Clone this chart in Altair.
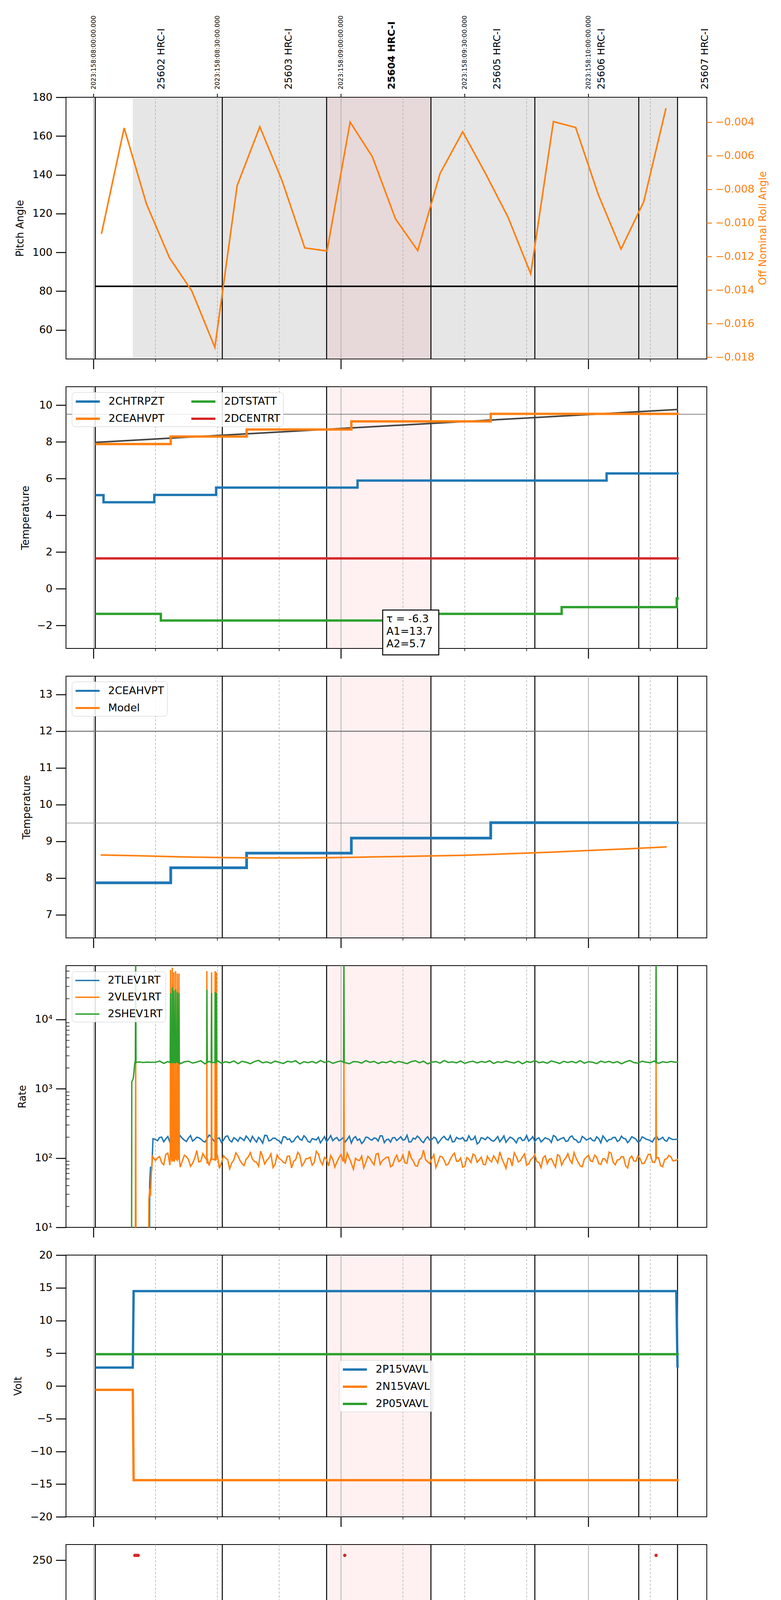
import altair as alt
import pandas as pd

FONT = "DejaVu Sans"
BLUE, ORANGE, GREEN, RED = "#1f77b4", "#ff7f0e", "#2ca02c", "#d62728"
PANEL_W, PANEL_H = 1641, 670

# ---------------- time axis: minutes after 04:00 local (08:00 UTC) ----------------
X_DOMAIN = [-6.7, 148.7]
HOUR_TICKS = [0, 60, 120]
HOUR_LABELS = ["04h", "05h", "06h"]
QUARTER_TICKS = [15, 30, 45, 75, 90, 105, 135]
QUARTER_LABELS = ["15", "30", "45", "15", "30", "45", "15"]
TOP_TICKS = [0, 30, 60, 90, 120]
TOP_LABELS = ["2023:158:08:00:00.000", "2023:158:08:30:00.000", "2023:158:09:00:00.000",
              "2023:158:09:30:00.000", "2023:158:10:00:00.000"]
X_TITLE = "2023-06-07 (158)"

OBSID_BOUNDS = [0.4, 31.2, 56.5, 81.8, 107.0, 132.2, 141.6]
OBSID_LABEL_X = [16.4, 47.3, 72.3, 97.8, 123.1, 148.2]
OBSID_NAMES = ["25602 HRC-I", "25603 HRC-I", "25604 HRC-I", "25605 HRC-I", "25606 HRC-I", "25607 HRC-I"]
OBSID_BOLD = [False, False, True, False, False, False]
GREY_SPAN = [9.5, 141.6]
PINK_SPAN = [56.5, 81.8]

# ---------------- panel 1: pitch / off-nominal roll ----------------
PITCH = [(0.4, 82.5), (141.6, 82.5)]
ROLL = [(1.9, -0.01064), (7.4, -0.00433), (12.8, -0.00885), (18.4, -0.01207), (23.8, -0.01404),
        (29.4, -0.01741), (34.8, -0.00777), (40.3, -0.00426), (45.7, -0.00747), (51.2, -0.01148),
        (56.6, -0.01166), (62.2, -0.00398), (67.6, -0.00605), (73.2, -0.00975), (78.6, -0.01164),
        (84.0, -0.00705), (89.5, -0.00456), (95.0, -0.00703), (100.5, -0.00965), (106.0, -0.01302),
        (111.5, -0.00395), (116.9, -0.0043), (122.4, -0.00831), (127.9, -0.01155), (133.4, -0.00873),
        (138.8, -0.00315)]
PITCH_DOMAIN = [45, 180]
ROLL_DOMAIN = [-0.0181, -0.0025]
PITCH_TICKS = [60, 80, 100, 120, 140, 160, 180]
ROLL_TICKS = [-0.004, -0.006, -0.008, -0.010, -0.012, -0.014, -0.016, -0.018]

# ---------------- panel 2: temperatures ----------------
P2_MODEL = [(0.4, 7.97), (141.7, 9.76)]
P2_2CHTRPZT = [(0.4, 5.1), (2.4, 4.71), (14.7, 5.11), (29.7, 5.51), (64.0, 5.89), (124.4, 6.28), (141.9, 6.28)]
P2_2CEAHVPT = [(0.4, 7.88), (18.7, 8.29), (37.1, 8.67), (62.5, 9.11), (96.3, 9.52), (141.9, 9.52)]
P2_2DTSTATT = [(0.4, -1.37), (16.3, -1.73), (81.8, -1.37), (113.5, -1.0), (141.4, -0.52), (141.9, -0.52)]
P2_2DCENTRT = [(0.4, 1.65), (141.9, 1.65)]
P2_HLINES = [9.5]
P2_BOX = (70.1, 83.7, -1.16, -3.6)
P2_BOX_X = 71.0
P2_BOX_TEXT = ["τ = -6.3", "A1=13.7", "A2=5.7"]
P2_BOX_Y = [-1.65, -2.33, -3.01]

# ---------------- panel 3: 2CEAHVPT vs model ----------------
P3_2CEAHVPT = [(0.4, 7.87), (18.7, 8.28), (37.1, 8.68), (62.5, 9.09), (96.3, 9.51), (141.9, 9.51)]
P3_MODEL = [(1.7, 8.63), (10, 8.61), (20, 8.58), (30, 8.56), (40, 8.55), (50, 8.55), (60, 8.56),
            (70, 8.58), (80, 8.60), (90, 8.62), (100, 8.66), (110, 8.70), (120, 8.75), (130, 8.80), (139, 8.85)]
P3_HLINES = [12.0, 9.5]

# ---------------- panel 4: rates (log) ----------------
RATE_GRID_START = 15
P4_TLEV_NOISE = [185, 198, 172, 205, 190, 165, 210, 182, 195, 176, 200, 188, 170, 215, 183, 192, 168, 205, 180, 197,
                 175, 190, 208, 172, 186, 199, 164, 212, 181, 194, 177, 203, 185, 170, 196, 188, 210, 174, 191, 183,
                 166, 204, 189, 178, 198, 185, 171, 207, 193, 180, 162, 200, 187, 195, 176, 209, 184, 170, 198, 190,
                 181, 214, 172, 188, 196, 167, 203, 185, 193, 178, 206, 182, 171, 199, 189, 177, 210, 186, 160, 197,
                 184, 192, 175, 205, 188, 169, 201, 183, 194, 179, 212, 187, 173, 196, 182, 190, 168, 204, 186, 198,
                 177, 209, 183, 171, 195, 188, 180, 203, 166, 192, 185, 199, 174, 207, 189, 181, 196, 170, 202, 187,
                 178, 193, 184, 200, 175, 190, 186]
P4_TLEV_NOISE_HALF = [178, 201, 189, 169, 207, 184, 193, 173, 211, 186, 197, 176, 190, 204, 168, 195, 182, 209, 171, 188,
                      199, 179, 192, 206, 170, 185, 213, 177, 194, 183, 163, 202, 190, 175, 208, 181, 196, 169, 187, 200,
                      184, 172, 211, 191, 178, 197, 186, 165, 204, 189, 174, 199, 181, 192, 210, 167, 188, 196, 179, 203,
                      185, 170, 194, 208, 176, 189, 182, 200, 164, 195, 187, 211, 173, 190, 198, 178, 184, 206, 169, 192,
                      201, 180, 188, 172, 209, 185, 194, 166, 198, 183, 176, 204, 190, 171, 197, 186, 212, 179, 193, 174,
                      200, 187, 168, 205, 182, 195, 177, 190, 209, 173, 186, 199, 181, 192, 167, 203, 188, 176, 196, 184,
                      171, 207, 189, 180, 198, 185]
P4_VLEV_NOISE = [92, 105, 80, 118, 88, 99, 74, 110, 95, 84, 128, 90, 102, 78, 96, 112, 86, 100, 70, 94,
                 108, 83, 97, 120, 89, 76, 104, 93, 115, 81, 99, 87, 106, 72, 95, 110, 85, 98, 79, 125,
                 91, 102, 77, 96, 88, 113, 83, 100, 69, 94, 107, 86, 99, 80, 117, 92, 103, 75, 97, 89,
                 111, 84, 101, 78, 95, 130, 88, 98, 73, 106, 93, 82, 109, 90, 100, 76, 96, 114, 87, 103,
                 80, 94, 108, 85, 99, 71, 97, 119, 88, 104, 79, 95, 112, 86, 101, 83, 98, 74, 107, 92,
                 116, 84, 100, 77, 96, 110, 89, 103, 81, 97, 122, 87, 94, 105, 78, 99, 91, 108, 83, 96,
                 113, 86, 101, 75, 98, 104, 92]
P4_VLEV_NOISE_HALF = [101, 86, 113, 79, 97, 124, 90, 105, 76, 99, 88, 116, 83, 102, 93, 71, 108, 95, 85, 119,
                      92, 78, 104, 97, 87, 126, 82, 100, 73, 111, 94, 84, 107, 90, 121, 77, 98, 103, 86, 115,
                      80, 96, 109, 74, 101, 89, 118, 84, 99, 92, 72, 106, 88, 114, 81, 97, 103, 78, 110, 93,
                      85, 127, 91, 76, 100, 95, 83, 112, 87, 104, 79, 96, 118, 90, 74, 102, 86, 109, 94, 81,
                      106, 88, 97, 123, 84, 99, 77, 105, 92, 115, 82, 101, 89, 73, 108, 96, 85, 112, 79, 100,
                      94, 120, 87, 75, 103, 91, 110, 83, 98, 86, 117, 80, 95, 104, 72, 107, 90, 99, 84, 113,
                      88, 102, 78, 96, 109, 91]
P4_SHEV_NOISE = [2410, 2520, 2330, 2470, 2390, 2560, 2300, 2450, 2500, 2350, 2430, 2540, 2290, 2480, 2400, 2550, 2340, 2460, 2380, 2520,
                 2310, 2490, 2420, 2300, 2470, 2570, 2370, 2450, 2340, 2510, 2410, 2320, 2500, 2430, 2540, 2290, 2460, 2380, 2480, 2350,
                 2560, 2400, 2500, 2330, 2440, 2530, 2390, 2300, 2470, 2450, 2350, 2550, 2410, 2490, 2320, 2440, 2380, 2520, 2360, 2480,
                 2400, 2310, 2460, 2540, 2380, 2500, 2290, 2430, 2470, 2350, 2560, 2400, 2450, 2370, 2520, 2330, 2440, 2500, 2360, 2480,
                 2410, 2540, 2320, 2460, 2390, 2520, 2430, 2350, 2500, 2300, 2470, 2410, 2560, 2380, 2450, 2340, 2520, 2430, 2320, 2490,
                 2400, 2480, 2370, 2550, 2340, 2460, 2420, 2310, 2510, 2400, 2490, 2370, 2470, 2300, 2450, 2560, 2390, 2350, 2500, 2430,
                 2380, 2520, 2330, 2460, 2400, 2480, 2420]
P4_TLEV_EXTRA = [(0.4, 1), (13.5, 1), (13.6, 45), (13.8, 75), (14.1, 68), (14.4, 190), (141.7, 188)]
P4_VLEV_EXTRA = [(0.4, 1), (10.1, 1), (10.2, 3000), (10.3, 1), (13.3, 1), (13.4, 25), (13.6, 36), (13.8, 28),
                 (14.0, 60), (14.3, 105),
                 (18.58, 95), (18.66, 52000), (18.74, 96), (19.0, 98), (19.08, 56000), (19.16, 100),
                 (19.42, 90), (19.46, 48000), (19.58, 92), (19.79, 98), (19.87, 50000), (19.95, 96),
                 (20.22, 94), (20.3, 46000), (20.38, 99), (20.62, 93), (20.7, 46000), (20.78, 97),
                 (27.42, 95), (27.46, 50000), (27.58, 98), (28.52, 92), (28.6, 48000), (28.68, 96),
                 (29.42, 94), (29.46, 50000), (29.58, 97), (29.72, 93), (29.8, 48000), (29.88, 99),
                 (60.62, 96), (60.7, 2400), (60.78, 98), (136.32, 95), (136.4, 2500), (136.48, 97), (141.7, 96)]
P4_SHEV_EXTRA = [(0.4, 1), (9.2, 1), (9.25, 1250), (9.6, 1400), (9.8, 1800), (10.0, 2400), (10.12, 2380),
                 (10.2, 90000), (10.28, 2400), (11.0, 2440), (12.0, 2400), (13.0, 2430), (14.0, 2410),
                 (18.58, 2400), (18.66, 24000), (18.74, 2420), (19.0, 2390), (19.08, 29000), (19.16, 2410),
                 (19.42, 2430), (19.46, 26000), (19.58, 2400), (19.79, 2380), (19.87, 27000), (19.95, 2420),
                 (20.22, 2410), (20.3, 25000), (20.38, 2400), (20.62, 2390), (20.7, 24000), (20.78, 2430),
                 (27.42, 2400), (27.46, 27000), (27.58, 2420), (28.52, 2410), (28.6, 24000), (28.68, 2400),
                 (29.42, 2390), (29.46, 25000), (29.58, 2410), (29.72, 2400), (29.8, 24000), (29.88, 2420),
                 (60.62, 2400), (60.7, 90000), (60.78, 2420), (136.32, 2410), (136.4, 90000), (136.48, 2400),
                 (141.7, 2420)]
RATE_TICKS = [10, 100, 1000, 10000]
RATE_LABELS = ["10¹", "10²", "10³", "10⁴"]
RATE_MINOR = [20, 30, 40, 50, 60, 70, 80, 90, 200, 300, 400, 500, 600, 700, 800, 900,
              2000, 3000, 4000, 5000, 6000, 7000, 8000, 9000, 20000, 30000, 40000, 50000, 60000]

# ---------------- panel 5: voltages ----------------
P5_2P15VAVL = [(0.4, 2.8), (9.5, 2.8), (9.7, 14.5), (141.3, 14.5), (141.6, 2.8)]
P5_2N15VAVL = [(0.4, -0.6), (9.5, -0.6), (9.7, -14.4), (141.9, -14.4)]
P5_2P05VAVL = [(0.4, 4.85), (141.9, 4.85)]

# ---------------- panel 6: HV monitor ----------------
P6_2IMHVLV_PTS = [(10.9, 100), (11.3, 100), (11.6, 100), (11.5, 96), (11.9, 96), (12.3, 96), (12.1, 90), (12.5, 90),
                  (12.9, 90), (12.7, 86), (13.1, 86), (13.6, 86), (13.3, 82), (13.8, 82), (14.3, 82),
                  (18.9, 127), (28.8, 127), (30.0, 127)]
P6_2IMHVLV_BAND = [(14.3, 79), (141.9, 79)]
P6_2IMHBLV_PTS = [(10.0, 255), (10.4, 255), (10.8, 255), (11.0, 127), (11.3, 127), (10.9, 122), (11.1, 119),
                  (11.0, 105), (11.4, 105), (11.8, 105), (12.2, 105), (11.6, 101), (12.0, 101), (12.4, 101), (12.8, 101),
                  (12.2, 97), (12.6, 97), (13.0, 97), (13.4, 97), (12.8, 93), (13.2, 93), (13.6, 93), (14.0, 93),
                  (13.4, 90), (13.8, 90), (14.2, 90), (14.5, 90),
                  (18.9, 79), (28.8, 79), (30.0, 79), (60.9, 255), (136.4, 255)]
P6_2IMHBLV_BAND = [(13.8, 86), (141.9, 86)]

# ---------------- panel 7: detector temps ----------------
P7_2SPINATM = [(10.8, 4.15), (12.4, 4.6), (18.3, 0), (18.5, 4.6), (18.7, 0), (18.9, 4.6), (19.1, 0), (19.3, 4.6),
               (19.5, 0), (19.7, 4.6), (19.9, 0), (20.1, 4.6), (20.3, 0), (20.5, 4.6), (20.7, 0), (20.9, 4.6),
               (21.1, 0), (21.3, 4.6), (21.5, 0), (21.6, 4.6), (28.4, 0), (28.6, 4.6), (29.7, 0), (29.9, 4.6),
               (141.9, 4.6)]
P7_2SPHVATM = [(9.2, -5), (9.3, 16.9), (18.3, 10.5), (18.5, 16.9), (18.7, 10.6), (18.9, 16.9), (19.1, 10.5),
               (19.3, 16.9), (19.5, 10.6), (19.7, 16.9), (19.9, 10.5), (20.1, 16.9), (20.3, 10.6), (20.5, 16.9),
               (20.7, 10.5), (20.9, 16.9), (21.1, 10.6), (21.3, 16.9), (21.5, 10.6), (21.6, 16.9), (28.4, 11.2),
               (28.6, 16.9), (29.7, 11.2), (29.9, 16.9), (70.9, 17.2), (105.0, 17.5), (141.9, 17.5)]
P7_2IMINATM = [(10.8, 2.4), (18.3, 4.6), (18.5, 2.4), (18.7, 4.6), (18.9, 2.4), (19.1, 4.6), (19.3, 2.4),
               (19.5, 4.6), (19.7, 2.4), (19.9, 4.6), (20.1, 2.4), (20.3, 4.6), (20.5, 2.4), (20.7, 4.6),
               (20.9, 2.4), (21.1, 4.6), (21.3, 2.4), (21.5, 4.6), (21.6, 2.4), (28.4, 4.6), (28.6, 2.4),
               (29.7, 4.6), (29.9, 2.4), (97.5, 2.79), (102.4, 2.55), (102.6, 2.79), (141.9, 2.79)]
P7_2IMHVATM = [(9.2, -5), (9.3, 16.35), (10.7, -5), (10.9, 16.35), (22.1, 16.63), (28.4, 16.9), (36.0, 17.2),
               (44.1, 17.49), (53.5, 17.78), (60.6, -5), (60.9, 17.78), (64.4, 18.05), (78.9, 18.34),
               (96.1, 18.63), (120.2, 18.94), (136.2, -5), (136.6, 18.94), (141.9, 18.94)]

# ---------------- panel 8: FEA temps ----------------
P8_2FHTRMZT = [(0.4, -4.04), (1.8, -4.42), (23.9, -4.04), (36.0, -3.64), (47.2, -3.27), (58.6, -2.9), (70.7, -2.52),
               (82.9, -2.16), (95.4, -1.76), (108.6, -1.37), (122.2, -1.0), (136.9, -0.64), (141.9, -0.64)]
P8_2FRADPYT = [(0.4, -6.38), (5.3, -6.77), (28.9, -6.38), (42.6, -6.0), (55.7, -5.62), (68.9, -5.23), (82.9, -4.84),
               (97.1, -4.45), (112.0, -4.06), (127.2, -3.67), (141.9, -3.67)]
P8_2FEPRATM = [(10.8, -3.43), (12.4, -3.03), (15.2, -2.64), (17.9, -2.26), (18.4, -4.63), (18.6, -2.26),
               (19.4, -4.63), (19.6, -2.26), (19.9, -4.63), (20.1, -2.26), (20.5, -4.63), (20.7, -2.26),
               (22.1, -1.87), (27.4, -1.45), (28.4, -4.63), (28.6, -1.45), (29.7, -4.63), (29.9, -1.45),
               (33.9, -1.03), (42.6, -0.65), (52.1, -0.25), (62.9, 0.18), (74.5, 0.6), (87.8, 1.03),
               (101.7, 1.46), (116.8, 1.89), (132.5, 2.32), (141.9, 2.32)]
P8_2FE00ATM = [(9.2, -12), (9.3, -2.14), (10.7, -12), (10.9, -2.14), (17.3, -1.82), (18.3, 5), (18.5, -1.82),
               (18.7, 5), (18.9, -1.82), (19.1, 5), (19.3, -1.82), (19.5, 5), (19.7, -1.82), (19.9, 5),
               (20.1, -1.82), (20.3, 5), (20.5, -1.82), (20.7, 5), (20.9, -1.82), (21.1, 5), (21.3, -1.82),
               (21.5, 5), (21.6, -1.82), (25.7, -1.47), (27.4, 5), (27.6, -1.47), (28.4, 5), (28.6, -1.47),
               (29.7, 5), (29.9, -1.47), (33.6, -1.11), (40.8, -0.8), (48.4, -0.48), (51.2, -1.1), (51.4, -0.48),
               (56.5, -0.15), (60.6, -12), (60.9, -0.15), (65.3, 0.17), (73.6, 0.45), (83.3, 0.77), (92.6, 1.07),
               (93.0, 0.5), (93.2, 1.07), (103.2, 1.41), (105.6, 0.77), (105.8, 1.41), (113.2, 1.73),
               (124.5, 2.0), (135.5, 2.32), (136.2, -12), (136.6, 2.32), (141.9, 2.32)]


# ======================================================================
def label_expr(values, labels):
    expr = "''"
    for v, lab in zip(reversed(values), reversed(labels)):
        expr = f"datum.value == {v} ? '{lab}' : {expr}"
    return expr


def xs(field="t"):
    return alt.X(f"{field}:Q", scale=alt.Scale(domain=X_DOMAIN, nice=False, zero=False), axis=None)


def yscale(dom, log=False):
    if log:
        return alt.Scale(type="log", domain=dom, nice=False)
    return alt.Scale(domain=dom, nice=False, zero=False)


def yaxis(values, title, title_x, **kw):
    return alt.Axis(orient="left", values=values, title=title, titleX=title_x, titleBaseline="middle",
                    tickSize=26, tickWidth=2.5, labelPadding=9, grid=False, domain=False, **kw)


def pts_df(pts, name=None):
    d = {"t": [p[0] for p in pts], "v": [p[1] for p in pts]}
    if name is not None:
        d["s"] = [name] * len(pts)
    return pd.DataFrame(d)


def base_layers(bottom=False, grey=False):
    layers = []
    # transparent frame that gives every panel the same layout extent above / below its plot area
    layers.append(alt.Chart(pd.DataFrame({"k": [0]})).mark_rect(opacity=0).encode(
        x=alt.value(0), x2=alt.value(1), y=alt.value(-15), y2=alt.value(PANEL_H + 30)))
    if grey:
        layers.append(alt.Chart(pd.DataFrame({"a": [GREY_SPAN[0]], "b": [GREY_SPAN[1]]}))
                      .mark_rect(color="#808080", opacity=0.2).encode(x=xs("a"), x2="b:Q"))
    layers.append(alt.Chart(pd.DataFrame({"a": [PINK_SPAN[0]], "b": [PINK_SPAN[1]]}))
                  .mark_rect(color="#ff0000", opacity=0.055).encode(x=xs("a"), x2="b:Q"))
    q_df = pd.DataFrame({"t": QUARTER_TICKS, "lab": QUARTER_LABELS})
    h_df = pd.DataFrame({"t": HOUR_TICKS, "lab": HOUR_LABELS})
    layers.append(alt.Chart(q_df).mark_rule(color="#b0b0b0", strokeWidth=1.5, strokeDash=[6, 4]).encode(x=xs()))
    layers.append(alt.Chart(h_df).mark_rule(color="#b0b0b0", strokeWidth=2).encode(x=xs()))
    layers.append(alt.Chart(pd.DataFrame({"t": OBSID_BOUNDS}))
                  .mark_rule(color="black", strokeWidth=2.5).encode(x=xs()))
    # bottom tick marks (outside the plot area)
    layers.append(alt.Chart(h_df).mark_rule(color="black", strokeWidth=2.5).encode(
        x=xs(), y=alt.value(PANEL_H), y2=alt.value(PANEL_H + 26)))
    layers.append(alt.Chart(q_df).mark_rule(color="black", strokeWidth=1.5).encode(
        x=xs(), y=alt.value(PANEL_H), y2=alt.value(PANEL_H + 7)))
    if bottom:
        layers.append(alt.Chart(h_df).mark_text(fontSize=26, font=FONT, baseline="middle", color="black").encode(
            x=xs(), y=alt.value(PANEL_H + 47), text="lab:N"))
        layers.append(alt.Chart(q_df).mark_text(fontSize=17, font=FONT, baseline="middle", color="black").encode(
            x=xs(), y=alt.value(PANEL_H + 15), text="lab:N"))
        layers.append(alt.Chart(pd.DataFrame({"lab": [X_TITLE]})).mark_text(
            fontSize=33, font=FONT, baseline="middle", color="black").encode(
            x=alt.value(PANEL_W / 2), y=alt.value(PANEL_H + 86), text="lab:N"))
    return layers


LEG_COMMON = dict(orient="none", title=None, labelFontSize=27, labelFont=FONT, labelLimit=400,
                  padding=7, strokeColor="#cccccc", fillColor="rgba(255,255,255,0.85)", cornerRadius=8)


def line_legend(lx, ly, stroke_w=6, columns=1):
    return alt.Legend(legendX=lx, legendY=ly, columns=columns, columnPadding=56,
                      symbolType="M-1,0L3.4,0", symbolSize=784, symbolStrokeWidth=stroke_w,
                      labelOffset=53, rowPadding=14, **LEG_COMMON)


def series(pts, name, ysc, yax, cscale, legend, interp="step-after", width=6.0):
    return alt.Chart(pts_df(pts, name)).mark_line(interpolate=interp, strokeWidth=width, clip=True).encode(
        x=xs(), y=alt.Y("v:Q", scale=ysc, axis=yax),
        color=alt.Color("s:N", scale=cscale, legend=legend))


def hlines(vals, ysc, yax, color, width):
    return alt.Chart(pd.DataFrame({"v": vals})).mark_rule(color=color, strokeWidth=width).encode(
        y=alt.Y("v:Q", scale=ysc, axis=yax))


def finish(layers):
    return alt.layer(*layers).properties(width=PANEL_W, height=PANEL_H)


# ---------------- panel 1 ----------------
ys1 = yscale(PITCH_DOMAIN)
ya1 = yaxis(PITCH_TICKS, "Pitch Angle", -118)
# roll values are drawn on the pitch scale through the linear map between the two axis ranges
roll_to_pitch = (f"{PITCH_DOMAIN[0]} + (datum.v - ({ROLL_DOMAIN[0]})) * "
                 f"{PITCH_DOMAIN[1] - PITCH_DOMAIN[0]} / {ROLL_DOMAIN[1] - ROLL_DOMAIN[0]}")
p1 = base_layers(grey=True)
p1.append(alt.Chart(pts_df(PITCH)).mark_line(color="black", strokeWidth=4).encode(
    x=xs(), y=alt.Y("v:Q", scale=ys1, axis=ya1)))
p1.append(alt.Chart(pts_df(ROLL)).transform_calculate(p=roll_to_pitch).mark_line(
    color=ORANGE, strokeWidth=4, clip=True).encode(x=xs(), y=alt.Y("p:Q", scale=ys1, axis=ya1)))
roll_tick_df = pd.DataFrame({"v": ROLL_TICKS, "lab": [f"{v:.3f}".replace("-", "\u2212") for v in ROLL_TICKS]})
p1.append(alt.Chart(roll_tick_df).transform_calculate(p=roll_to_pitch).mark_rule(
    color=ORANGE, strokeWidth=2.5).encode(
    y=alt.Y("p:Q", scale=ys1, axis=ya1), x=alt.value(PANEL_W), x2=alt.value(PANEL_W + 13)))
p1.append(alt.Chart(roll_tick_df).transform_calculate(p=roll_to_pitch).mark_text(
    color=ORANGE, fontSize=27, font=FONT, align="left", baseline="middle").encode(
    y=alt.Y("p:Q", scale=ys1, axis=ya1), x=alt.value(PANEL_W + 22), text="lab:N"))
p1.append(alt.Chart(pd.DataFrame({"lab": ["Off Nominal Roll Angle"]})).mark_text(
    color=ORANGE, fontSize=26, font=FONT, angle=270, align="center", baseline="middle").encode(
    x=alt.value(PANEL_W + 144), y=alt.value(PANEL_H / 2), text="lab:N"))
top_df = pd.DataFrame({"t": TOP_TICKS, "lab": TOP_LABELS})
p1.append(alt.Chart(top_df).mark_rule(color="black", strokeWidth=2).encode(
    x=xs(), y=alt.value(-9), y2=alt.value(0)))
p1.append(alt.Chart(top_df).mark_text(fontSize=16, font=FONT, angle=270, align="left", baseline="middle",
                                      color="black").encode(x=xs(), y=alt.value(-20), text="lab:N"))
obs_df = pd.DataFrame({"t": OBSID_LABEL_X, "name": OBSID_NAMES, "bold": OBSID_BOLD})
p1.append(alt.Chart(obs_df[~obs_df["bold"]]).mark_text(
    angle=270, align="left", baseline="middle", fontSize=25, font=FONT, color="black").encode(
    x=xs(), y=alt.value(-20), text="name:N"))
p1.append(alt.Chart(obs_df[obs_df["bold"]]).mark_text(
    angle=270, align="left", baseline="middle", fontSize=25, font=FONT, fontWeight="bold", color="black").encode(
    x=xs(), y=alt.value(-20), text="name:N"))
panel1 = finish(p1)

# ---------------- panel 2 ----------------
ys2 = yscale([-3.25, 11.0])
ya2 = yaxis([-2, 0, 2, 4, 6, 8, 10], "Temperature", -104)
c2 = alt.Scale(domain=["2CHTRPZT", "2CEAHVPT", "2DTSTATT", "2DCENTRT"], range=[BLUE, ORANGE, GREEN, RED])
leg2 = line_legend(15, 14, columns=2)
p2 = base_layers()
p2.append(hlines(P2_HLINES, ys2, ya2, "#808080", 2))
p2.append(alt.Chart(pts_df(P2_MODEL)).mark_line(color="#444444", strokeWidth=4).encode(
    x=xs(), y=alt.Y("v:Q", scale=ys2, axis=ya2)))
p2.append(series(P2_2CHTRPZT, "2CHTRPZT", ys2, ya2, c2, leg2))
p2.append(series(P2_2CEAHVPT, "2CEAHVPT", ys2, ya2, c2, leg2))
p2.append(series(P2_2DTSTATT, "2DTSTATT", ys2, ya2, c2, leg2))
p2.append(series(P2_2DCENTRT, "2DCENTRT", ys2, ya2, c2, leg2))
p2.append(alt.Chart(pd.DataFrame({"a": [P2_BOX[0]], "b": [P2_BOX[1]], "v": [P2_BOX[2]], "d": [P2_BOX[3]]}))
          .mark_rect(fill="white", stroke="black", strokeWidth=2.5).encode(
    x=xs("a"), x2="b:Q", y=alt.Y("v:Q", scale=ys2, axis=ya2), y2="d:Q"))
p2.append(alt.Chart(pd.DataFrame({"t": [P2_BOX_X] * 3, "v": P2_BOX_Y, "txt": P2_BOX_TEXT}))
          .mark_text(align="left", baseline="middle", fontSize=27, font=FONT, color="black").encode(
    x=xs(), y=alt.Y("v:Q", scale=ys2, axis=ya2), text="txt:N"))
panel2 = finish(p2)

# ---------------- panel 3 ----------------
ys3 = yscale([6.37, 13.5])
ya3 = yaxis([7, 8, 9, 10, 11, 12, 13], "Temperature", -101)
c3 = alt.Scale(domain=["2CEAHVPT", "Model"], range=[BLUE, ORANGE])
leg3 = line_legend(15, 14, stroke_w=5)
p3 = base_layers()
p3.append(hlines([P3_HLINES[0]], ys3, ya3, "#707070", 2.5))
p3.append(hlines([P3_HLINES[1]], ys3, ya3, "#909090", 1.5))
p3.append(series(P3_2CEAHVPT, "2CEAHVPT", ys3, ya3, c3, leg3, width=7))
p3.append(series(P3_MODEL, "Model", ys3, ya3, c3, leg3, interp="linear", width=4))
panel3 = finish(p3)

# ---------------- panel 4 ----------------
ys4 = yscale([10, 60000], log=True)
ya4 = yaxis(RATE_TICKS, "Rate", -112, labelExpr=label_expr(RATE_TICKS, RATE_LABELS))
c4 = alt.Scale(domain=["2TLEV1RT", "2VLEV1RT", "2SHEV1RT"], range=[BLUE, ORANGE, GREEN])
leg4 = line_legend(15, 15, stroke_w=3.5)


def with_noise(extra, noise, noise_half=()):
    grid = [(RATE_GRID_START + i, v) for i, v in enumerate(noise)]
    grid += [(RATE_GRID_START + 0.5 + i, v) for i, v in enumerate(noise_half)]
    return sorted(extra + grid, key=lambda p: p[0])


p4 = base_layers()
p4.append(series(with_noise(P4_TLEV_EXTRA, P4_TLEV_NOISE, P4_TLEV_NOISE_HALF), "2TLEV1RT", ys4, ya4, c4, leg4,
                 interp="linear", width=3.5))
p4.append(series(with_noise(P4_VLEV_EXTRA, P4_VLEV_NOISE, P4_VLEV_NOISE_HALF), "2VLEV1RT", ys4, ya4, c4, leg4,
                 interp="linear", width=3.5))
p4.append(series(with_noise(P4_SHEV_EXTRA, P4_SHEV_NOISE), "2SHEV1RT", ys4, ya4, c4, leg4,
                 interp="linear", width=3.5))
p4.append(alt.Chart(pd.DataFrame({"v": RATE_MINOR})).mark_rule(color="black", strokeWidth=1.5).encode(
    y=alt.Y("v:Q", scale=ys4, axis=ya4), x=alt.value(0), x2=alt.value(9)))
panel4 = finish(p4)

# ---------------- panel 5 ----------------
ys5 = yscale([-20, 20])
ya5 = yaxis([-20, -15, -10, -5, 0, 5, 10, 15, 20], "Volt", -123)
c5 = alt.Scale(domain=["2P15VAVL", "2N15VAVL", "2P05VAVL"], range=[BLUE, ORANGE, GREEN])
leg5 = line_legend(699, 269)
p5 = base_layers()
p5.append(series(P5_2P15VAVL, "2P15VAVL", ys5, ya5, c5, leg5, interp="linear"))
p5.append(series(P5_2N15VAVL, "2N15VAVL", ys5, ya5, c5, leg5, interp="linear"))
p5.append(series(P5_2P05VAVL, "2P05VAVL", ys5, ya5, c5, leg5, interp="linear"))
panel5 = finish(p5)

# ---------------- panel 6 ----------------
ys6 = yscale([0, 266])
ya6 = yaxis([0, 50, 100, 150, 200, 250], "HV Monitor", -118)
c6 = alt.Scale(domain=["2SPHBLV", "2SPHVLV", "2IMHVLV", "2IMHBLV"], range=[BLUE, ORANGE, GREEN, RED])
leg6 = alt.Legend(legendX=15, legendY=481, symbolType="M4.2,0A1,1 0 1,1 6.2,0A1,1 0 1,1 4.2,0Z",
                  symbolSize=100, labelOffset=71, rowPadding=15, **LEG_COMMON)
p6 = base_layers()
p6.append(alt.Chart(pts_df(P6_2IMHVLV_BAND)).mark_line(color=GREEN, strokeWidth=11, strokeCap="round").encode(
    x=xs(), y=alt.Y("v:Q", scale=ys6, axis=ya6)))
p6.append(alt.Chart(pts_df(P6_2IMHBLV_BAND)).mark_line(color=RED, strokeWidth=10, strokeCap="round").encode(
    x=xs(), y=alt.Y("v:Q", scale=ys6, axis=ya6)))
pts6 = pd.concat([pts_df(P6_2IMHVLV_PTS, "2IMHVLV"), pts_df(P6_2IMHBLV_PTS, "2IMHBLV")], ignore_index=True)
p6.append(alt.Chart(pts6).mark_circle(size=72, opacity=1).encode(
    x=xs(), y=alt.Y("v:Q", scale=ys6, axis=ya6),
    color=alt.Color("s:N", scale=c6, legend=leg6)))
panel6 = finish(p6)

# ---------------- panel 7 ----------------
ys7 = yscale([0.86, 20.14])
ya7 = yaxis([2.5, 5, 7.5, 10, 12.5, 15, 17.5, 20], "Detector Temp", -127, format=".1f")
c7 = alt.Scale(domain=["2SPINATM", "2SPHVATM", "2IMINATM", "2IMHVATM"], range=[BLUE, ORANGE, GREEN, RED])
leg7 = line_legend(15, 247)
p7 = base_layers()
p7.append(series(P7_2SPINATM, "2SPINATM", ys7, ya7, c7, leg7))
p7.append(series(P7_2SPHVATM, "2SPHVATM", ys7, ya7, c7, leg7))
p7.append(series(P7_2IMINATM, "2IMINATM", ys7, ya7, c7, leg7))
p7.append(series(P7_2IMHVATM, "2IMHVATM", ys7, ya7, c7, leg7))
panel7 = finish(p7)

# ---------------- panel 8 ----------------
ys8 = yscale([-7.77, 2.96])
ya8 = yaxis([-6, -4, -2, 0, 2], "FEA Temp", -106)
c8 = alt.Scale(domain=["2FHTRMZT", "2FRADPYT", "2FEPRATM", "2FE00ATM"], range=[BLUE, ORANGE, GREEN, RED])
leg8 = line_legend(15, 13)
p8 = base_layers(bottom=True)
p8.append(series(P8_2FHTRMZT, "2FHTRMZT", ys8, ya8, c8, leg8))
p8.append(series(P8_2FRADPYT, "2FRADPYT", ys8, ya8, c8, leg8))
p8.append(series(P8_2FEPRATM, "2FEPRATM", ys8, ya8, c8, leg8))
p8.append(series(P8_2FE00ATM, "2FE00ATM", ys8, ya8, c8, leg8))
panel8 = finish(p8)

chart = alt.vconcat(panel1, panel2, panel3, panel4, panel5, panel6, panel7, panel8,
                    spacing=24).resolve_scale(color="independent").properties(
    padding={"left": 20, "top": 30, "right": 5, "bottom": 2}, background="white"
).configure_view(stroke="black", strokeWidth=2).configure_axis(
    labelFont=FONT, titleFont=FONT, labelFontSize=27, titleFontSize=26, titleFontWeight="normal",
    labelColor="black", titleColor="black", tickColor="black"
).configure_text(font=FONT)

chart.save("out.html", embed_options={"renderer": "svg", "actions": False})
